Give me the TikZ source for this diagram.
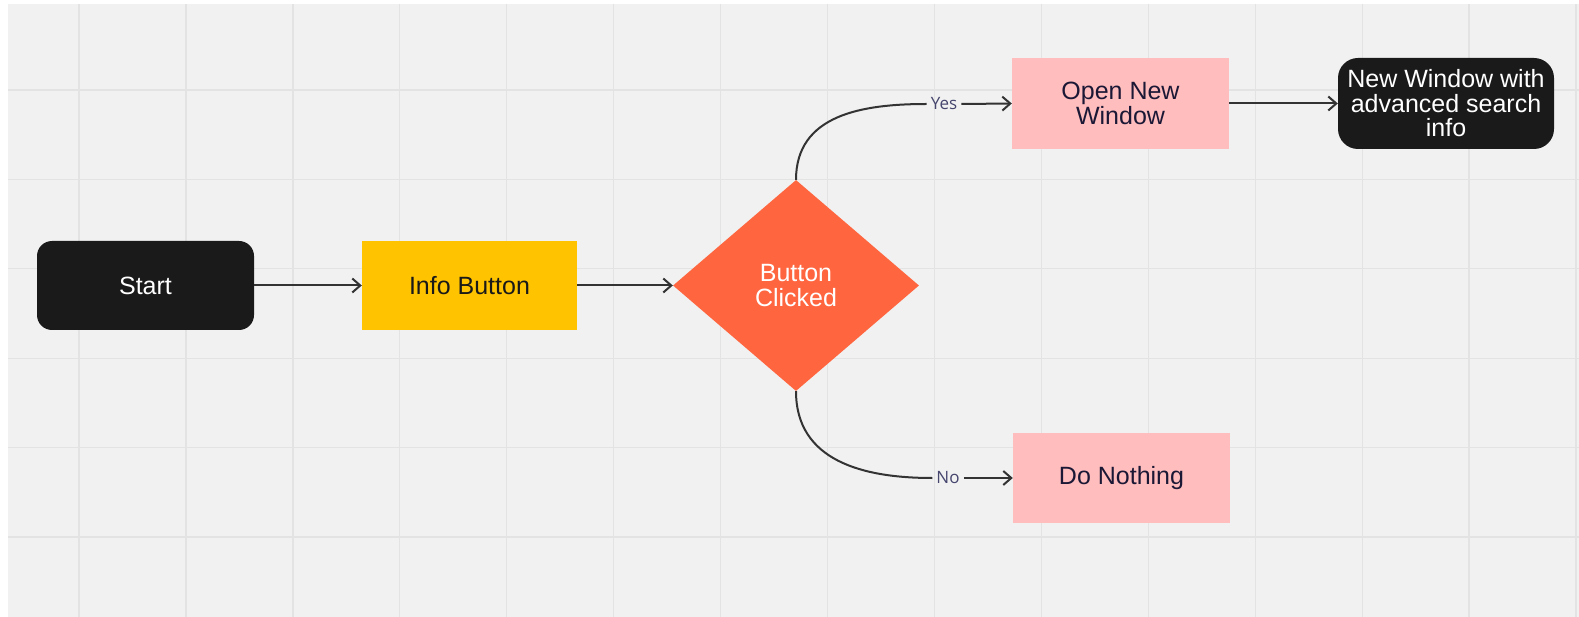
\documentclass[tikz,border=0pt]{standalone}
\usepackage{fontspec}
\setmainfont{Liberation Sans}
\newfontfamily\labelfont{Open Sans}
\usetikzlibrary{shapes.geometric,arrows.meta}
\definecolor{bgc}{HTML}{F1F1F1}
\definecolor{gridc}{HTML}{E3E3E3}
\definecolor{darkbox}{HTML}{1A1A1A}
\definecolor{yellowbox}{HTML}{FFC300}
\definecolor{orangebox}{HTML}{FF6640}
\definecolor{pinkbox}{HTML}{FFBDBD}
\definecolor{navytext}{HTML}{1B1836}
\definecolor{labeltext}{HTML}{45456E}
\definecolor{linec}{HTML}{333333}
\tikzset{
  boxtext/.style={font=\fontsize{25}{24.5}\selectfont, align=center, inner sep=0pt},
  darknode/.style={boxtext, fill=darkbox, text=white, rounded corners=15pt},
  yellownode/.style={boxtext, fill=yellowbox, text=black!90},
  pinknode/.style={boxtext, fill=pinkbox, text=navytext},
  decision/.style={boxtext, diamond, fill=orangebox, text=white, aspect=1.16},
  edgelabel/.style={font=\labelfont\fontsize{17}{20}\selectfont, text=labeltext, inner sep=0pt},
  conn/.style={draw=linec, line width=2pt},
  arr/.style={conn, -{Straight Barb[length=8pt,width=14pt,line width=2pt]}}
}
\begin{document}
\begin{tikzpicture}[x=1pt,y=-1pt]
\useasboundingbox (0,0) rectangle (1579,617);
\fill[white] (0,0) rectangle (1579,617);
\fill[bgc] (8,4) rectangle (1579,617);
\foreach \k in {0,...,14} {
  \draw[gridc, line width=1.3pt] ({79+106.93*\k},4) -- ({79+106.93*\k},617);
}
\foreach \k in {0,...,5} {
  \draw[gridc, line width=1.3pt] (8,{90+89.4*\k}) -- (1579,{90+89.4*\k});
}
\node[darknode, minimum width=217, minimum height=89] (start) at (145.5,285.5) {Start};
\node[yellownode, minimum width=215, minimum height=89] (info) at (469.5,285.5) {Info Button};
\node[decision, minimum width=246, minimum height=211] (dia) at (796,285.5) {Button\\Clicked};
\node[pinknode, minimum width=217, minimum height=91] (open) at (1120.5,103.5) {Open New\\Window};
\node[darknode, rounded corners=20pt, minimum width=216, minimum height=91] (adv) at (1446,103.5) {New Window with\\advanced search\\info};
\node[pinknode, minimum width=217, minimum height=90] (nothing) at (1121.5,478) {Do Nothing};
\node[edgelabel] (yes) at (944,104) {Yes};
\node[edgelabel] (no) at (948,478) {No};
\draw[arr] (start.east) -- (info.west);
\draw[arr] (info.east) -- (dia.west);
\draw[conn] (dia.north) to[out=90,in=180,looseness=1.1] ([xshift=-4pt]yes.west);
\draw[arr] ([xshift=4pt]yes.east) -- (open.west);
\draw[conn] (dia.south) to[out=-90,in=180,looseness=1.1] ([xshift=-4pt]no.west);
\draw[arr] ([xshift=4pt]no.east) -- (nothing.west);
\draw[arr] (open.east) -- (adv.west);
\end{tikzpicture}
\end{document}
